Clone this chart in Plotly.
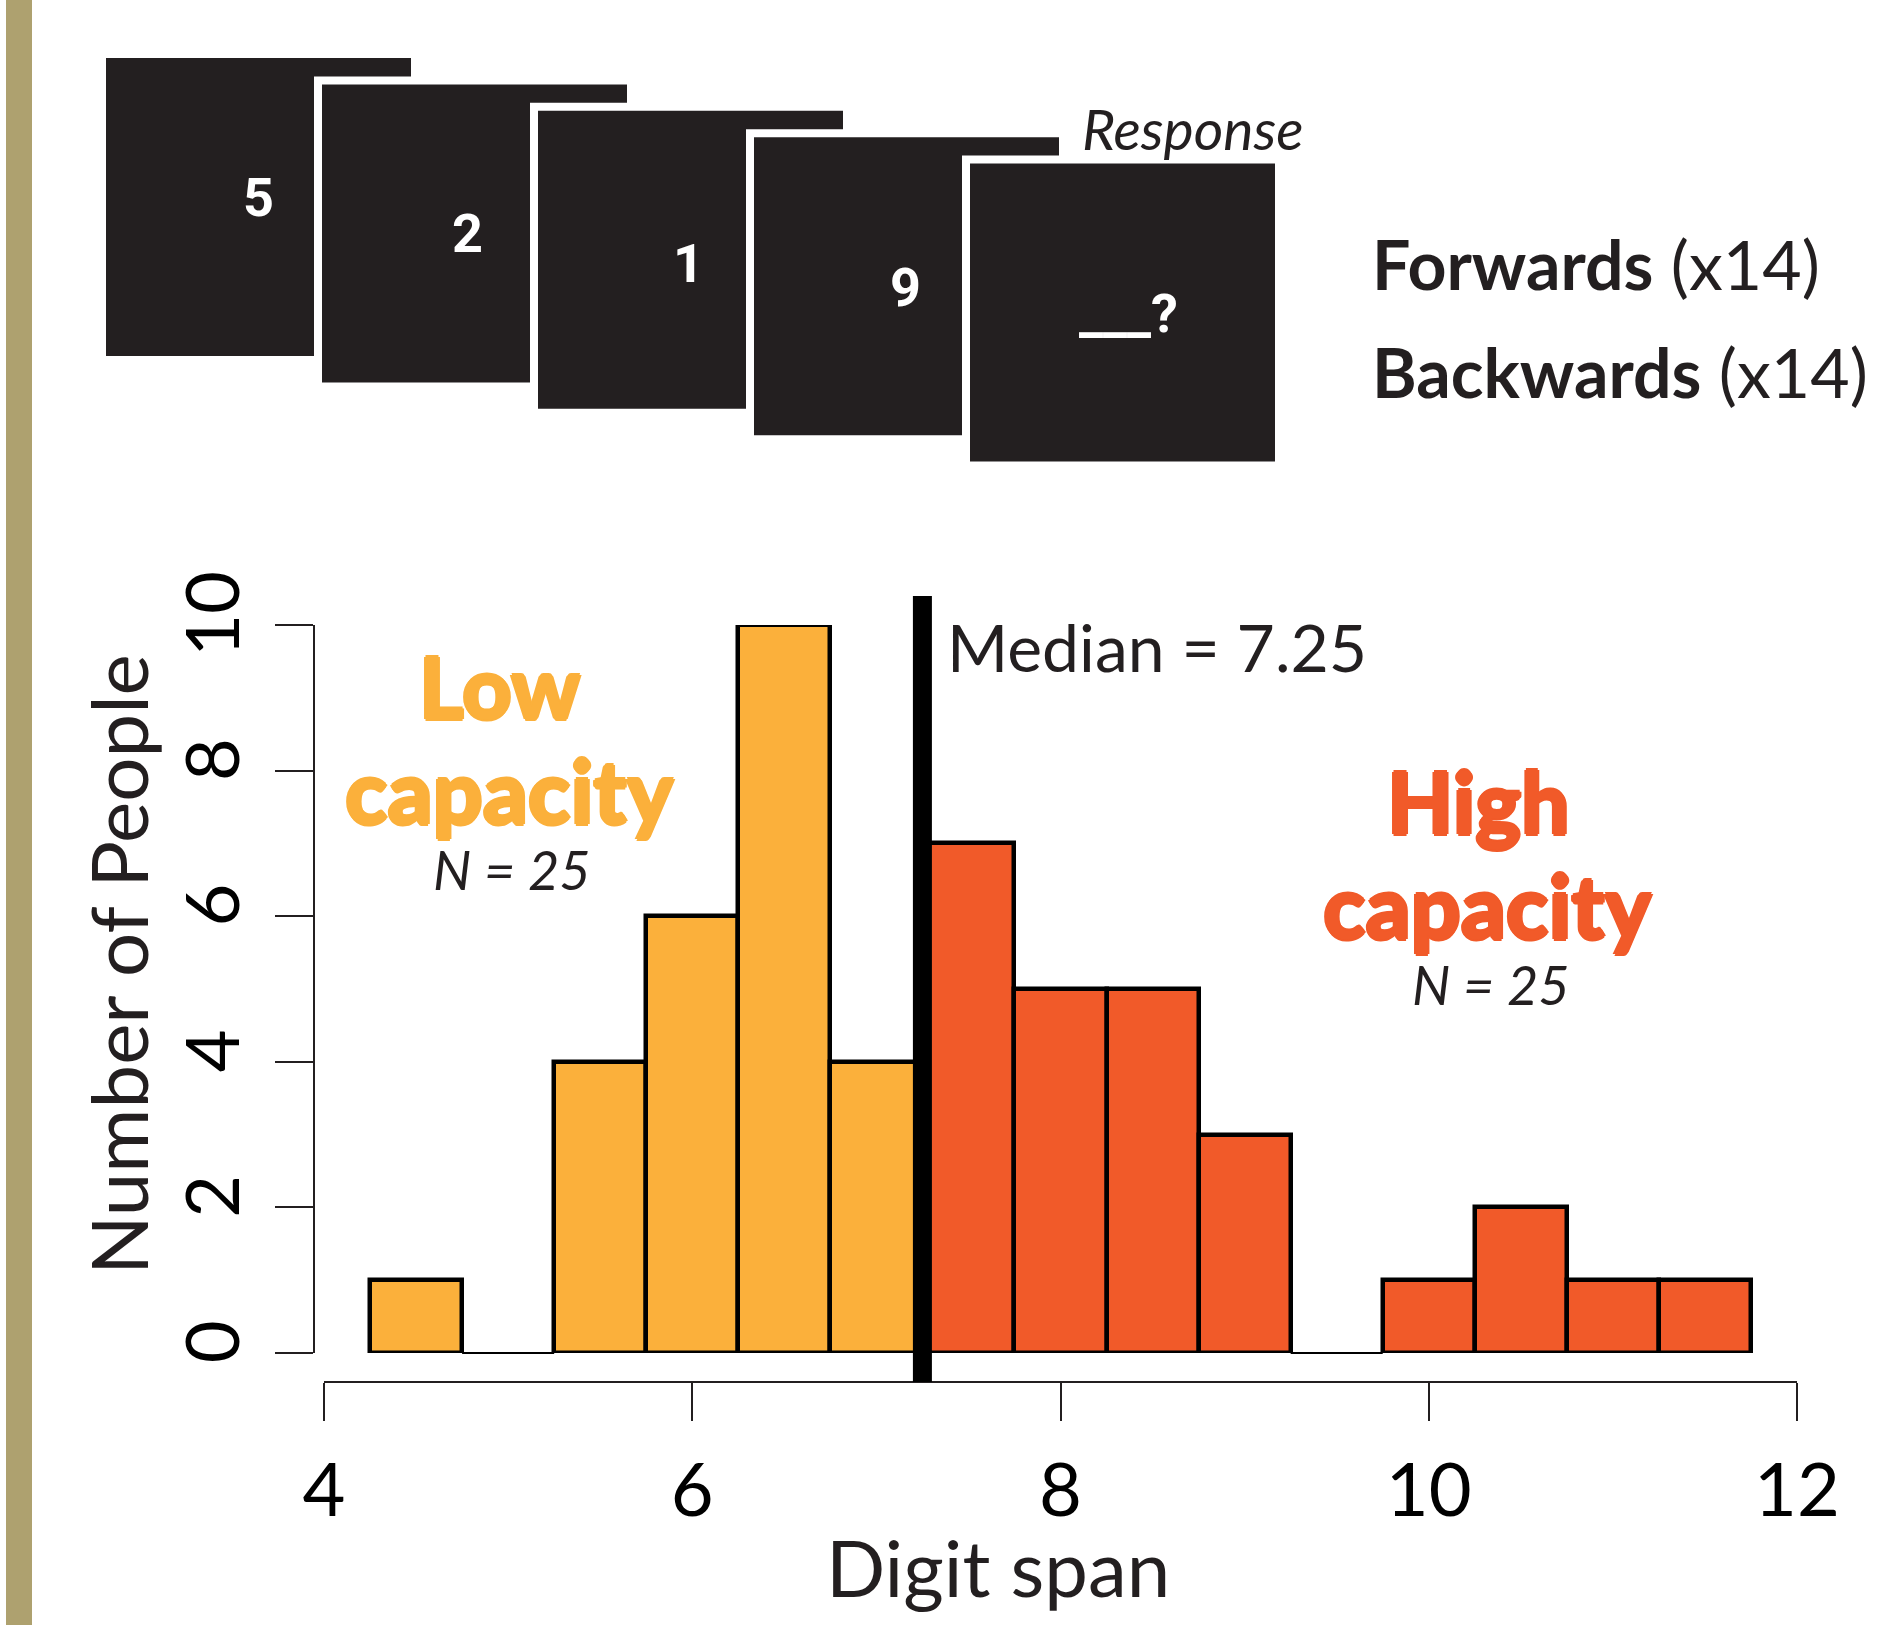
import plotly.graph_objects as go

# ---------------- data ----------------
bin_centers = [4.5, 5.0, 5.5, 6.0, 6.5, 7.0, 7.5, 8.0, 8.5, 9.0, 9.5, 10.0, 10.5, 11.0, 11.5]
bin_counts = [1, 0, 4, 6, 10, 4, 7, 5, 5, 3, 0, 1, 2, 1, 1]
bin_width = 0.5
median_span = 7.25
n_low = 25
n_high = 25
x_ticks = [4, 6, 8, 10, 12]
y_ticks = [0, 2, 4, 6, 8, 10]
card_digits = ["5", "2", "1", "9", "___?"]

# ---------------- style ----------------
W, H = 1896, 1625
LOW_C = "#FBB03B"
HIGH_C = "#F15A29"
INK = "#231F20"
FONT = "Lato"
HEAVY = "Lato Black, Lato"


def px(x):
    return x / W


def py(y):
    return 1 - y / H


def thick(col, d=1.6):
    return f"{d}px 0 0 {col}, -{d}px 0 0 {col}, 0 {d}px 0 {col}, 0 -{d}px 0 {col}"


low_x = [c for c, n in zip(bin_centers, bin_counts) if c < median_span and n > 0]
low_y = [n for c, n in zip(bin_centers, bin_counts) if c < median_span and n > 0]
high_x = [c for c, n in zip(bin_centers, bin_counts) if c > median_span and n > 0]
high_y = [n for c, n in zip(bin_centers, bin_counts) if c > median_span and n > 0]

fig = go.Figure()
for xs, ys, col in [(low_x, low_y, LOW_C), (high_x, high_y, HIGH_C)]:
    fig.add_trace(go.Bar(
        x=xs, y=ys, width=bin_width,
        marker=dict(color=col, line=dict(color="black", width=4.5)),
        cliponaxis=False, showlegend=False, hoverinfo="x+y",
    ))

shapes = []
# gold stripe at left
shapes.append(dict(type="rect", xref="paper", yref="paper", x0=px(6), x1=px(32), y0=0, y1=1,
                   fillcolor="#AEA16F", line=dict(width=0), layer="below"))
# empty bins baseline
for c, n in zip(bin_centers, bin_counts):
    if n == 0:
        shapes.append(dict(type="line", xref="x", yref="y domain", x0=c - bin_width / 2, x1=c + bin_width / 2,
                           y0=0, y1=0, line=dict(color="black", width=2)))
# median line
shapes.append(dict(type="line", xref="x", yref="paper", x0=median_span, x1=median_span,
                   y0=py(1382), y1=py(596), line=dict(color="black", width=19), layer="above"))

# stimulus cards
card_w, card_h = 305, 298
for i in range(len(card_digits)):
    x0 = 106 + 216 * i
    y0 = 58 + 26.4 * i
    shapes.append(dict(type="rect", xref="paper", yref="paper",
                       x0=px(x0 - 4), x1=px(x0 + card_w + 4), y0=py(y0 + card_h + 4), y1=py(y0 - 4),
                       fillcolor=INK, line=dict(color="white", width=8), layer="above"))

annotations = []
digit_pos = [(258, 197), (467, 233), (688, 264), (905, 288), (1128, 314)]
for d, (cx, cy) in zip(card_digits, digit_pos):
    annotations.append(dict(x=px(cx), y=py(cy), xref="paper", yref="paper", text=d, showarrow=False,
                            xanchor="center", yanchor="middle",
                            font=dict(family="Liberation Sans Narrow, Roboto", size=54, color="white",
                                      weight="bold")))

annotations.append(dict(x=px(1080), y=py(128), xref="paper", yref="paper", text="<i>Response</i>",
                        showarrow=False, xanchor="left", yanchor="middle",
                        font=dict(family=FONT, size=57, color=INK)))
annotations.append(dict(x=px(1370), y=py(263), xref="paper", yref="paper", text="<b>Forwards</b> (x14)",
                        showarrow=False, xanchor="left", yanchor="middle",
                        font=dict(family=FONT, size=68, color=INK)))
annotations.append(dict(x=px(1370), y=py(371), xref="paper", yref="paper", text="<b>Backwards</b> (x14)",
                        showarrow=False, xanchor="left", yanchor="middle",
                        font=dict(family=FONT, size=68, color=INK)))

# group labels
annotations.append(dict(x=px(500), y=py(685), xref="paper", yref="paper", text="Low",
                        showarrow=False, xanchor="center", yanchor="middle",
                        font=dict(family=HEAVY, size=86, color=LOW_C, weight=900, shadow=thick(LOW_C))))
annotations.append(dict(x=px(510), y=py(790), xref="paper", yref="paper", text="capacity",
                        showarrow=False, xanchor="center", yanchor="middle",
                        font=dict(family=HEAVY, size=88, color=LOW_C, weight=900, shadow=thick(LOW_C))))
annotations.append(dict(x=px(512), y=py(870), xref="paper", yref="paper", text=f"<i>N</i> = {n_low}",
                        showarrow=False, xanchor="center", yanchor="middle",
                        font=dict(family=FONT, size=54, color=INK, style="italic")))
annotations.append(dict(x=px(1478), y=py(800), xref="paper", yref="paper", text="High",
                        showarrow=False, xanchor="center", yanchor="middle",
                        font=dict(family=HEAVY, size=86, color=HIGH_C, weight=900, shadow=thick(HIGH_C))))
annotations.append(dict(x=px(1488), y=py(905), xref="paper", yref="paper", text="capacity",
                        showarrow=False, xanchor="center", yanchor="middle",
                        font=dict(family=HEAVY, size=88, color=HIGH_C, weight=900, shadow=thick(HIGH_C))))
annotations.append(dict(x=px(1491), y=py(984), xref="paper", yref="paper", text=f"<i>N</i> = {n_high}",
                        showarrow=False, xanchor="center", yanchor="middle",
                        font=dict(family=FONT, size=54, color=INK, style="italic")))

annotations.append(dict(x=px(945), y=py(647), xref="paper", yref="paper", text=f"Median = {median_span}",
                        showarrow=False, xanchor="left", yanchor="middle",
                        font=dict(family=FONT, size=66, color=INK)))

# axis titles
annotations.append(dict(x=px(118), y=py(965), xref="paper", yref="paper", text="Number of People",
                        showarrow=False, xanchor="center", yanchor="middle", textangle=-90,
                        font=dict(family=FONT, size=78, color=INK)))
annotations.append(dict(x=px(998), y=py(1567), xref="paper", yref="paper", text="Digit span",
                        showarrow=False, xanchor="center", yanchor="middle",
                        font=dict(family=FONT, size=78, color=INK)))

fig.update_layout(
    width=W, height=H, autosize=False,
    margin=dict(l=0, r=0, t=0, b=0, pad=0, autoexpand=False),
    paper_bgcolor="white", plot_bgcolor="rgba(0,0,0,0)",
    bargap=0,
    shapes=shapes,
    annotations=annotations,
    xaxis=dict(range=[4, 12], domain=[px(324), px(1797)], anchor="free", position=py(1382),
               tickvals=x_ticks, ticktext=[str(t) for t in x_ticks], automargin=False,
               showline=True, linecolor=INK, linewidth=2, ticks="outside", ticklen=38, tickwidth=2,
               tickcolor=INK, showgrid=False, zeroline=False,
               tickfont=dict(family=FONT, size=74, color="black"), ticklabelstandoff=6),
    yaxis=dict(range=[0, 10], domain=[py(1353), py(625)], anchor="free", position=px(314),
               tickvals=y_ticks, ticktext=[str(t) for t in y_ticks], automargin=False,
               showline=True, linecolor=INK, linewidth=2, ticks="outside", ticklen=38, tickwidth=2,
               tickcolor=INK, showgrid=False, zeroline=False, tickangle=-90,
               tickfont=dict(family=FONT, size=74, color="black"), ticklabelstandoff=6),
)

fig.write_html("out.html", config={"displayModeBar": False},
               post_script="document.body.style.margin='0';document.body.style.overflow='hidden';")
